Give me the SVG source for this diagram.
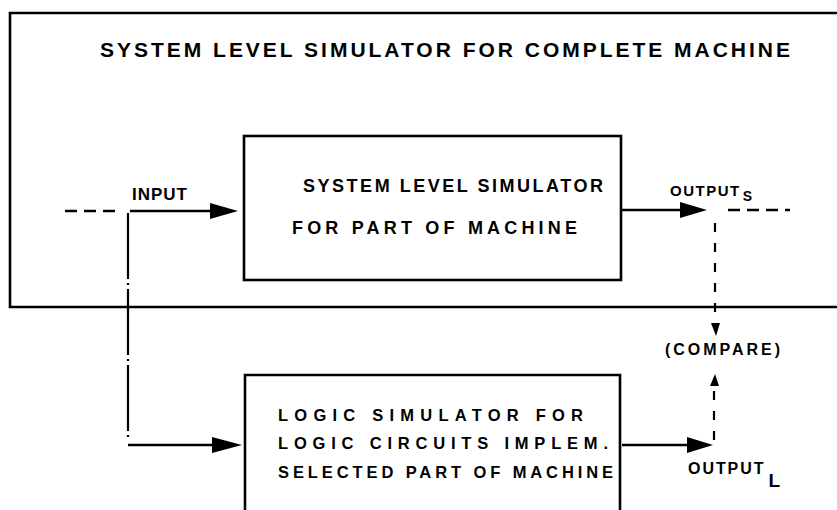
<svg xmlns="http://www.w3.org/2000/svg" width="837" height="510" viewBox="0 0 837 510">
  <style>
    .frame { fill: none; stroke: #000; stroke-width: 2.6; }
    .box { fill: #fff; stroke: #000; stroke-width: 2.6; }
    .txt { font-family: "Liberation Sans", Arial, sans-serif; font-weight: bold; fill: #000; }
    .line { fill: none; stroke: #000; stroke-width: 2.4; }
    .dash { fill: none; stroke: #000; stroke-width: 2.4; stroke-dasharray: 12 7; }
    .vdash { fill: none; stroke: #000; stroke-width: 2.2; stroke-dasharray: 9 11; }
    .dashdot { fill: none; stroke: #000; stroke-width: 2.2; stroke-dasharray: 66 4 2 4; }
    .head { fill: #000; stroke: none; }
  </style>

  <rect width="837" height="510" fill="#fff"/>

  <!-- outer frame: system level simulator for the complete machine -->
  <g id="machine-frame">
    <path class="frame" d="M837,13 H10 V307 H837"/>
    <text class="txt" x="100" y="57" font-size="21" textLength="690" lengthAdjust="spacing">SYSTEM LEVEL SIMULATOR FOR COMPLETE MACHINE</text>
  </g>

  <!-- system level simulator for part of machine -->
  <g id="system-part">
    <rect class="box" x="244" y="136" width="377" height="144"/>
    <text class="txt" x="303" y="192" font-size="18" textLength="300" lengthAdjust="spacing">SYSTEM LEVEL SIMULATOR</text>
    <text class="txt" x="292" y="234" font-size="18" textLength="285" lengthAdjust="spacing">FOR PART OF MACHINE</text>
  </g>

  <!-- logic simulator for selected part -->
  <g id="logic-part">
    <path class="box" d="M245,512 V375 H620 V512"/>
    <text class="txt" x="278" y="421" font-size="16.5" textLength="305" lengthAdjust="spacing">LOGIC SIMULATOR FOR</text>
    <text class="txt" x="278" y="449" font-size="16.5" textLength="330" lengthAdjust="spacing">LOGIC CIRCUITS IMPLEM.</text>
    <text class="txt" x="278" y="478" font-size="16.5" textLength="335" lengthAdjust="spacing">SELECTED PART OF MACHINE</text>
  </g>

  <!-- compare label -->
  <g id="compare">
    <text class="txt" x="665" y="355" font-size="16" textLength="115" lengthAdjust="spacing">(COMPARE)</text>
  </g>

  <!-- connectors -->
  <g id="connectors">
    <!-- input -->
    <path class="dash" d="M65,211 H122"/>
    <path class="line" d="M130,211 H212"/>
    <polygon class="head" points="210,203 238,211 210,219"/>
    <text class="txt" x="132" y="200" font-size="17" textLength="55" lengthAdjust="spacing">INPUT</text>

    <!-- input branch to logic simulator -->
    <path class="dashdot" d="M128,213 V438"/>
    <path class="line" d="M128,445 H214"/>
    <polygon class="head" points="212,437 242,445 212,453"/>

    <!-- system output -->
    <path class="line" d="M622,210 H682"/>
    <polygon class="head" points="680,202 707,210 680,218"/>
    <path class="dash" d="M728,210 H790"/>
    <text class="txt" x="670" y="196" font-size="15" textLength="82" lengthAdjust="spacing">OUTPUT<tspan font-size="14" dx="2" dy="5">S</tspan></text>
    <path class="vdash" d="M715,223 V322"/>
    <polygon class="head" points="711,323 720,323 716,336"/>

    <!-- logic output -->
    <path class="line" d="M622,445 H689"/>
    <polygon class="head" points="687,437 713,445 687,453"/>
    <path class="vdash" d="M714,440 V386"/>
    <polygon class="head" points="710,386 719,386 715,374"/>
    <text class="txt" x="688" y="474" font-size="16" textLength="92" lengthAdjust="spacing">OUTPUT<tspan font-size="19" dx="3" dy="13">L</tspan></text>
  </g>
</svg>
